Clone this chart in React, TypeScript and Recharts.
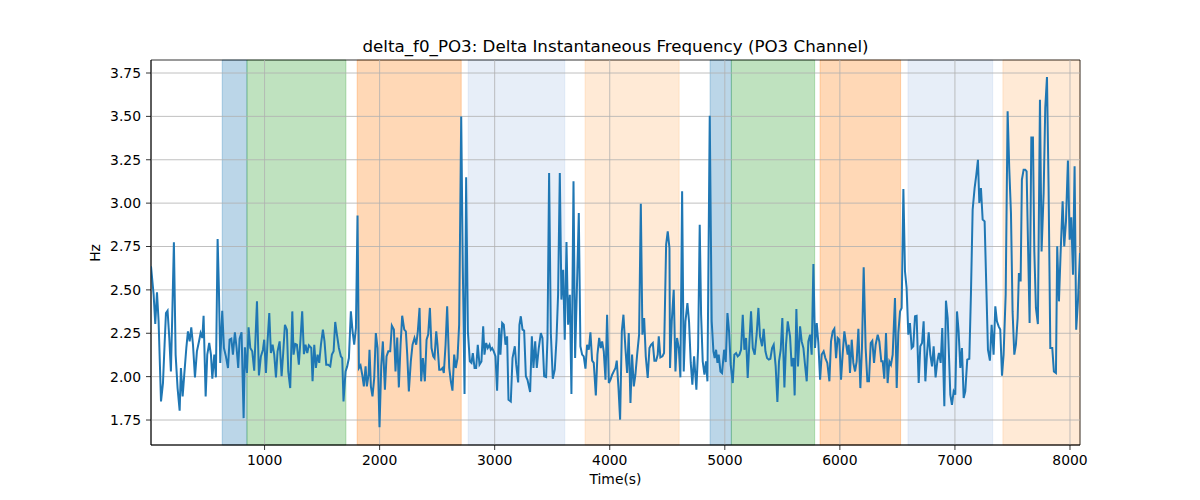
import React from "react";
import {
  LineChart,
  Line,
  XAxis,
  YAxis,
  ReferenceArea,
  ReferenceLine,
} from "recharts";

// Sample times (s)
const times = [
  13, 36, 50, 65, 79, 100, 117, 131, 143, 157, 172, 186, 198, 212, 227, 244, 262, 273, 288, 302,
  320, 334, 349, 363, 378, 395, 412, 430, 444, 459, 470, 488, 502, 519, 534, 546, 563, 577, 592, 603,
  615, 632, 647, 664, 682, 696, 711, 725, 742, 757, 771, 783, 800, 818, 829, 847, 861, 876, 893, 910,
  934, 951, 968, 986, 997, 1012, 1026, 1041, 1055, 1070, 1084, 1099, 1113, 1131, 1148, 1162, 1177, 1194, 1206, 1223,
  1241, 1252, 1267, 1281, 1298, 1313, 1327, 1342, 1356, 1371, 1385,
  1406, 1417, 1432, 1446, 1461, 1475, 1490, 1507, 1521, 1536, 1553, 1571, 1585, 1600, 1614, 1629, 1646, 1663, 1675, 1686,
  1704, 1718, 1733, 1750, 1765, 1779, 1794, 1808, 1820, 1834, 1849, 1863, 1878, 1889, 1904, 1912, 1924, 1938, 1953, 1967,
  1982, 1999, 2014, 2028, 2046, 2060, 2075, 2092, 2106, 2124, 2138, 2153, 2167, 2182, 2196, 2214, 2228, 2240, 2254, 2271,
  2286, 2303, 2318, 2332, 2347, 2361, 2376, 2393, 2408, 2422, 2437, 2451, 2466, 2477, 2492, 2503, 2518, 2532, 2547, 2558,
  2573, 2587, 2605, 2619, 2633, 2648, 2662, 2677, 2691, 2709, 2723, 2738, 2752, 2767,
  2784, 2798, 2810, 2825, 2839, 2853, 2868, 2885, 2900, 2911, 2926, 2940, 2955, 2966, 2978, 2992, 3007, 3021, 3039, 3050,
  3065, 3079, 3094, 3108, 3120, 3140, 3155, 3175, 3187, 3204, 3215, 3227, 3242, 3256, 3271, 3285, 3308, 3323, 3337, 3352,
  3366, 3383, 3401, 3415, 3430, 3447, 3459, 3473, 3488, 3505, 3522, 3537, 3551, 3566, 3580, 3595, 3609, 3624, 3638, 3653,
  3667, 3685, 3699, 3714, 3731, 3745, 3760, 3774, 3789, 3803, 3818, 3832, 3847, 3861, 3879, 3893, 3908, 3922, 3934, 3948,
  3963, 3977, 3992, 4006, 4021, 4035, 4050, 4061, 4076, 4090, 4105, 4119, 4136, 4151, 4165,
  4180, 4194, 4209, 4223, 4238, 4255, 4270, 4284, 4299, 4313, 4330, 4345, 4359, 4374, 4388, 4403, 4417, 4426, 4440, 4458,
  4472, 4490, 4504, 4519, 4524, 4539, 4556, 4571, 4585, 4600, 4614, 4629, 4643, 4658, 4675, 4689, 4704, 4718, 4733, 4753,
  4768, 4782, 4794, 4808, 4823, 4837, 4849, 4869, 4886, 4901, 4912, 4924, 4936, 4947, 4962, 4976, 4994, 5008, 5023, 5037,
  5051, 5069, 5083, 5098, 5112, 5127, 5141, 5156, 5170, 5185, 5199, 5214, 5228, 5243, 5260, 5277, 5292, 5306, 5324, 5338,
  5353, 5367, 5382, 5396, 5411, 5425, 5442, 5457, 5471, 5486, 5500, 5518, 5532, 5547,
  5567, 5581, 5596, 5607, 5622, 5636, 5654, 5668, 5683, 5697, 5712, 5726, 5741, 5755, 5770, 5784, 5799, 5813, 5828, 5842,
  5859, 5874, 5891, 5909, 5923, 5938, 5952, 5967, 5981, 5995, 6010, 6024, 6039, 6053, 6068, 6077, 6088, 6103, 6117, 6132,
  6146, 6161, 6178, 6192, 6207, 6224, 6239, 6253, 6268, 6282, 6297, 6311, 6329, 6343, 6360, 6372, 6386, 6401, 6415, 6430,
  6444, 6459, 6479, 6494, 6508, 6523, 6537, 6552, 6566, 6580, 6595, 6609, 6624, 6638, 6653, 6667, 6685, 6699, 6714, 6728,
  6743, 6757, 6772, 6786, 6801, 6815, 6832, 6847, 6861, 6876, 6890, 6908, 6922, 6937,
  6960, 6974, 6989, 7003, 7018, 7032, 7047, 7061, 7076, 7090, 7107, 7125, 7139, 7154, 7171, 7186, 7200, 7212, 7226, 7241,
  7258, 7273, 7287, 7304, 7319, 7336, 7351, 7365, 7380, 7394, 7409, 7423, 7441, 7458, 7472, 7487, 7501, 7516, 7530, 7545,
  7556, 7571, 7582, 7597, 7611, 7623, 7637, 7649, 7664, 7678, 7690, 7704, 7721, 7739, 7753, 7771, 7785, 7800, 7814, 7829,
  7846, 7860, 7878, 7889, 7904, 7918, 7936, 7950, 7965, 7982, 7997, 8011, 8026, 8040, 8054, 8069, 8087,
];

// delta f0 (Hz) at each sample time
const hzValues = [
  2.636, 2.472, 2.303, 2.486, 2.319, 1.857, 1.963, 2.184, 2.367, 2.38, 2.223, 2.03, 2.357, 2.774, 2.127, 1.934, 1.804, 2.05, 1.886, 2.011,
  2.165, 2.261, 2.203, 2.284, 2.184, 1.996, 2.146, 2.203, 2.251, 2.223, 2.351, 1.886, 2.127, 2.194, 2.127, 1.988, 2.127, 1.996, 2.793, 2.511,
  2.079, 2.38, 2.165, 2.117, 2.05, 2.213, 2.219, 2.127, 2.255, 2.165, 2.05, 2.219, 2.255, 1.761, 2.169, 2.021, 2.284, 2.165, 2.146, 2.034,
  2.434, 2.007, 2.117, 2.155, 2.213, 2.021, 2.203, 2.367, 2.136, 2.184, 2.127, 1.996, 2.146, 2.203, 2.002, 2.136, 2.299, 2.271, 2.03, 1.934,
  2.376, 2.127, 2.188, 2.184, 2.069, 2.223, 2.376, 2.13, 2.184, 2.136, 2.18,
  2.165, 1.973, 2.184, 2.05, 2.127, 2.079, 2.184, 2.271, 2.203, 2.069, 2.069, 2.059, 2.127, 2.146, 2.315, 2.242, 2.165, 2.117, 2.107, 1.857,
  2.03, 2.059, 2.107, 2.376, 2.261, 2.184, 2.28, 2.928, 2.05, 2.065, 2.011, 1.944, 2.059, 1.944, 2.011, 2.155, 1.944, 1.886, 1.992, 2.251,
  2.165, 1.708, 2.059, 2.203, 1.925, 2.117, 2.146, 2.146, 2.294, 2.271, 2.03, 2.226, 1.938, 2.184, 2.351, 2.271, 2.261, 2.127, 1.915, 2.088,
  2.184, 2.223, 2.184, 2.261, 2.396, 1.973, 2.107, 1.973, 2.213, 2.242, 2.396, 2.165, 2.117, 2.107, 2.261, 2.184, 2.04, 2.04, 2.05, 2.021,
  2.184, 2.405, 2.05, 1.973, 1.919, 2.127, 2.05, 2.107, 2.299, 3.5, 2.626, 1.9, 3.149, 2.261,
  2.088, 2.079, 2.136, 2.05, 2.05, 2.184, 2.069, 2.088, 2.29, 2.127, 2.194, 2.165, 2.184, 2.155, 2.165, 2.146, 2.117, 1.919, 2.28, 2.127,
  2.309, 2.299, 2.184, 2.232, 1.867, 1.857, 2.107, 2.175, 2.069, 1.967, 2.299, 2.348, 2.271, 2.265, 2.002, 1.982, 1.911, 2.232, 2.05, 2.203,
  2.05, 2.165, 2.251, 2.223, 2.002, 1.998, 2.223, 3.174, 2.251, 1.988, 2.04, 2.213, 2.472, 3.174, 2.444, 2.616, 2.213, 2.776, 2.299, 2.472,
  1.9, 3.126, 2.107, 2.492, 2.943, 2.175, 2.127, 2.117, 2.046, 2.184, 2.155, 2.255, 2.092, 2.079, 1.892, 2.127, 2.223, 2.165, 2.203, 2.146,
  1.982, 2.357, 1.963, 1.982, 2.011, 2.03, 2.05, 2.092, 1.934, 1.752, 2.261, 2.357, 2.165, 2.021, 2.251,
  1.848, 2.127, 1.944, 2.011, 2.127, 2.242, 2.997, 2.242, 2.338, 2.117, 1.992, 2.165, 2.184, 2.194, 2.092, 2.092, 2.127, 2.232, 2.111, 2.117,
  2.136, 2.761, 2.837, 2.741, 2.05, 2.319, 2.501, 2.03, 2.223, 2.165, 1.996, 3.068, 2.03, 2.319, 2.424, 2.319, 2.079, 1.954, 2.117, 1.925,
  2.165, 2.876, 2.357, 2.088, 2.011, 2.088, 1.973, 3.504, 2.319, 2.146, 2.107, 2.155, 2.079, 2.127, 2.03, 2.021, 2.155, 2.084, 2.367, 2.261,
  2.069, 1.963, 2.127, 2.136, 2.117, 2.127, 2.155, 2.357, 2.155, 2.223, 1.992, 2.203, 2.376, 2.165, 2.127, 2.246, 2.396, 2.232, 2.175, 2.276,
  2.146, 2.107, 2.098, 2.103, 2.165, 2.184, 2.059, 1.854, 2.088, 2.155, 2.338, 1.938, 2.184, 2.319,
  2.232, 2.059, 2.107, 1.892, 2.39, 2.059, 2.29, 2.203, 2.165, 2.069, 1.973, 2.203, 2.242, 2.127, 2.649, 2.165, 2.309, 2.194, 1.982, 2.127,
  2.146, 2.107, 2.079, 1.973, 2.203, 2.261, 2.276, 2.107, 2.223, 2.213, 1.982, 2.127, 2.261, 2.194, 2.127, 2.184, 2.021, 2.213, 2.079, 2.03,
  2.088, 2.276, 1.934, 2.165, 2.63, 2.165, 1.973, 1.973, 2.194, 2.207, 2.079, 2.184, 2.242, 2.203, 2.088, 2.088, 1.988, 2.251, 1.963, 2.088,
  2.069, 2.127, 2.453, 1.934, 2.251, 2.376, 2.396, 3.081, 2.607, 2.511, 2.242, 2.309, 2.165, 2.175, 2.348, 2.351, 1.963, 2.175, 2.194, 2.319,
  1.973, 2.127, 2.255, 2.127, 2.059, 2.175, 1.996, 2.088, 2.136, 2.079, 2.28, 1.829, 2.438, 2.338,
  1.896, 1.838, 1.915, 1.896, 2.376, 2.261, 2.05, 2.165, 1.877, 1.915, 2.098, 2.103, 2.472, 2.962, 3.087, 3.164, 3.25, 3.001, 3.087, 2.905,
  2.895, 2.511, 2.155, 2.092, 2.299, 2.127, 2.405, 2.319, 2.29, 2.271, 2.005, 2.127, 2.472, 3.529, 3.202, 2.943, 2.376, 2.127, 2.184, 2.338,
  2.597, 2.549, 3.135, 3.193, 3.193, 3.183, 2.703, 2.309, 3.379, 3.379, 2.722, 2.396, 2.303, 3.596, 2.722, 3.058, 3.548, 3.727, 3.087, 2.165,
  2.165, 2.03, 2.021, 2.751, 2.434, 2.703, 3.01, 2.751, 2.895, 3.245, 2.789, 2.918, 2.588, 3.212, 2.271, 2.434, 2.713,
];

// Shaded segments: [start, end, colour]
const spanStarts = [632, 847, 1805, 2770, 3786, 4872, 5057, 5828, 6592, 7417];
const spanEnds = [847, 1707, 2709, 3609, 4603, 5057, 5781, 6528, 7328, 8087];
const spanColors = [
  "#1f77b4", "#2ca02c", "#ff7f0e", "#aec7e8", "#ffbb78",
  "#1f77b4", "#2ca02c", "#ff7f0e", "#aec7e8", "#ffbb78",
];

const xTicks = [1000, 2000, 3000, 4000, 5000, 6000, 7000, 8000];
const yTicks = [1.75, 2.0, 2.25, 2.5, 2.75, 3.0, 3.25, 3.5, 3.75];

const data = times.map((t, i) => ({ t, hz: hzValues[i] }));

const FONT = "'DejaVu Sans', sans-serif";
const tickStyle = { fontSize: 13.9, fill: "#000", fontFamily: FONT };

export default function App() {
  return (
    <div
      style={{
        position: "absolute",
        left: 0,
        top: 0,
        width: 1200,
        height: 500,
        background: "#fff",
        fontFamily: FONT,
      }}
    >
      <div
        style={{
          position: "absolute",
          top: 37.5,
          left: 151,
          width: 929,
          textAlign: "center",
          fontSize: 16.7,
          lineHeight: 1,
          color: "#000",
        }}
      >
        delta_f0_PO3: Delta Instantaneous Frequency (PO3 Channel)
      </div>
      <div
        style={{
          position: "absolute",
          top: 473,
          left: 151,
          width: 929,
          textAlign: "center",
          fontSize: 13.9,
          lineHeight: 1,
          color: "#000",
        }}
      >
        Time(s)
      </div>
      <div
        style={{
          position: "absolute",
          top: 246,
          left: 76,
          width: 40,
          textAlign: "center",
          fontSize: 13.9,
          lineHeight: 1,
          color: "#000",
          transform: "rotate(-90deg)",
        }}
      >
        Hz
      </div>
      <LineChart
        width={1200}
        height={500}
        data={data}
        margin={{ top: 60, right: 120, bottom: 25, left: 51 }}
      >
        {spanStarts.map((s, i) => (
          <ReferenceArea
            key={"span" + i}
            x1={s}
            x2={spanEnds[i]}
            fill={spanColors[i]}
            fillOpacity={0.3}
            stroke={spanColors[i]}
            strokeOpacity={0.3}
            ifOverflow="extendDomain"
          />
        ))}
        {/* grid drawn after the spans so it sits on top, as in matplotlib */}
        {xTicks.map((v) => (
          <ReferenceLine key={"gx" + v} x={v} stroke="#b0b0b0" strokeWidth={0.8} />
        ))}
        {yTicks.map((v) => (
          <ReferenceLine key={"gy" + v} y={v} stroke="#b0b0b0" strokeWidth={0.8} />
        ))}
        <XAxis
          dataKey="t"
          type="number"
          domain={[13, 8087]}
          ticks={xTicks}
          allowDataOverflow
          height={30}
          tickSize={5}
          tickMargin={5}
          tick={tickStyle}
          stroke="#000"
          strokeWidth={0.8}
        />
        <YAxis
          type="number"
          domain={[1.606, 3.825]}
          ticks={yTicks}
          allowDataOverflow
          width={100}
          tickSize={5}
          tickMargin={5}
          tick={tickStyle}
          tickFormatter={(v: number) => v.toFixed(2)}
          stroke="#000"
          strokeWidth={0.8}
        />
        <ReferenceArea
          x1={13}
          x2={8087}
          y1={1.606}
          y2={3.825}
          fill="none"
          stroke="#000"
          strokeWidth={0.8}
          ifOverflow="visible"
        />
        <Line
          type="linear"
          dataKey="hz"
          stroke="#1f77b4"
          strokeWidth={2}
          dot={false}
          isAnimationActive={false}
        />
      </LineChart>
    </div>
  );
}
